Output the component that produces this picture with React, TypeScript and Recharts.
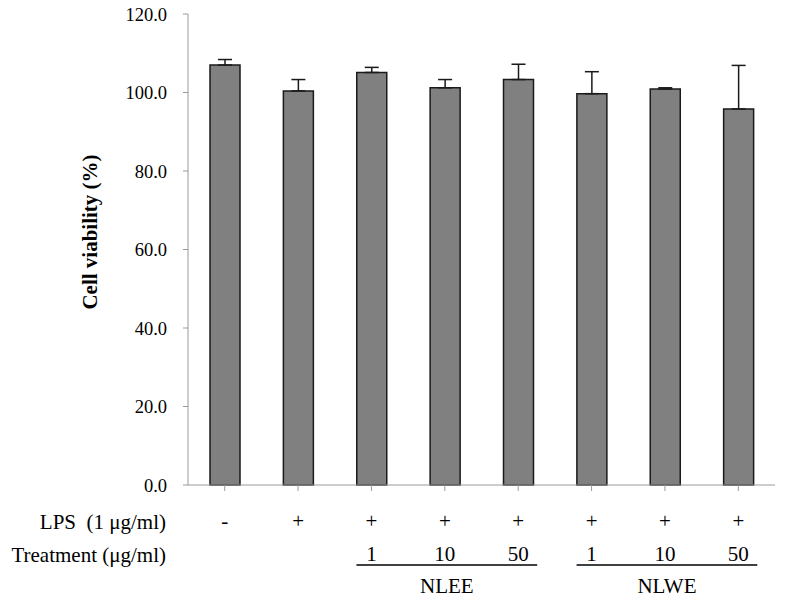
import { BarChart, Bar, XAxis, YAxis, ErrorBar } from 'recharts';

const lps = ['-', '+', '+', '+', '+', '+', '+', '+'];
const treatment = ['', '', '1', '10', '50', '1', '10', '50'];
const groups = ['', '', 'NLEE', 'NLEE', 'NLEE', 'NLWE', 'NLWE', 'NLWE'];
const viability = [107.0, 100.4, 105.1, 101.2, 103.3, 99.7, 100.9, 95.8];
const sd = [1.4, 2.9, 1.3, 2.1, 3.9, 5.6, 0.3, 11.1];
const yTicks = [0, 20, 40, 60, 80, 100, 120];

const data = lps.map((l, i) => ({
  id: `g${i}`,
  lps: l,
  treatment: treatment[i],
  group: groups[i],
  value: viability[i],
  err: [0, sd[i]],
}));

const W = 785;
const H = 603;
const LEFT = 188;
const RIGHT = 10;
const BAND = (W - LEFT - RIGHT) / lps.length;
const FONT = '"Liberation Serif", "Times New Roman", serif';

function TreatmentTick({ x, y, index }: any) {
  const d = data[index];
  if (!d) return null;
  const first = index === 0 || data[index - 1].group !== d.group;
  const count = data.filter((r) => r.group === d.group).length;
  return (
    <g fontFamily={FONT} fill="#000">
      {index === 0 && (
        <>
          <text x={166} y={y + 38} textAnchor="end" fontSize={21}>
            {'LPS\u00a0 (1 μg/ml)'}
          </text>
          <text x={166} y={y + 71} textAnchor="end" fontSize={21}>
            Treatment (μg/ml)
          </text>
        </>
      )}
      <text x={x} y={y + 37} textAnchor="middle" fontSize={21}>
        {d.lps}
      </text>
      {d.treatment && (
        <text x={x} y={y + 70} textAnchor="middle" fontSize={21}>
          {d.treatment}
        </text>
      )}
      {d.group && first && (
        <>
          <line
            x1={x - 15}
            x2={x + (count - 1) * BAND + 19}
            y1={y + 74}
            y2={y + 74}
            stroke="#000"
            strokeWidth={1.5}
          />
          <text
            x={x + ((count - 1) * BAND) / 2 + 2}
            y={y + 102}
            textAnchor="middle"
            fontSize={21}
          >
            {d.group}
          </text>
        </>
      )}
    </g>
  );
}

// rotated y title, sits a bit above the plot centre like the original
const YTitle = () => (
  <text
    transform="translate(97, 232) rotate(-90)"
    textAnchor="middle"
    fontFamily={FONT}
    fontSize={21}
    fontWeight="bold"
    fill="#000"
  >
    Cell viability (%)
  </text>
);

export default function App() {
  return (
    <div style={{ position: 'absolute', left: 0, top: 0, width: W, height: H, background: '#fff' }}>
      <BarChart
        width={W}
        height={H}
        data={data}
        margin={{ top: 14, right: RIGHT, bottom: 0, left: 0 }}
        barSize={30}
      >
        <XAxis
          dataKey="id"
          stroke="#9a9a9a"
          tickSize={6}
          tickMargin={0}
          interval={0}
          tick={<TreatmentTick />}
          height={118}
        />
        <YAxis
          width={LEFT}
          domain={[0, 120]}
          ticks={yTicks}
          interval={0}
          stroke="#9a9a9a"
          tickSize={5}
          tickMargin={16}
          tickFormatter={(v: number) => v.toFixed(1)}
          tick={{ fill: '#000', fontSize: 18.5, fontFamily: FONT }}
          label={{ content: <YTitle /> }}
        />
        <Bar dataKey="value" fill="#808080" stroke="#1a1a1a" strokeWidth={1.5} isAnimationActive={false}>
          <ErrorBar dataKey="err" width={7} stroke="#1a1a1a" strokeWidth={1.5} direction="y" />
        </Bar>
      </BarChart>
    </div>
  );
}
